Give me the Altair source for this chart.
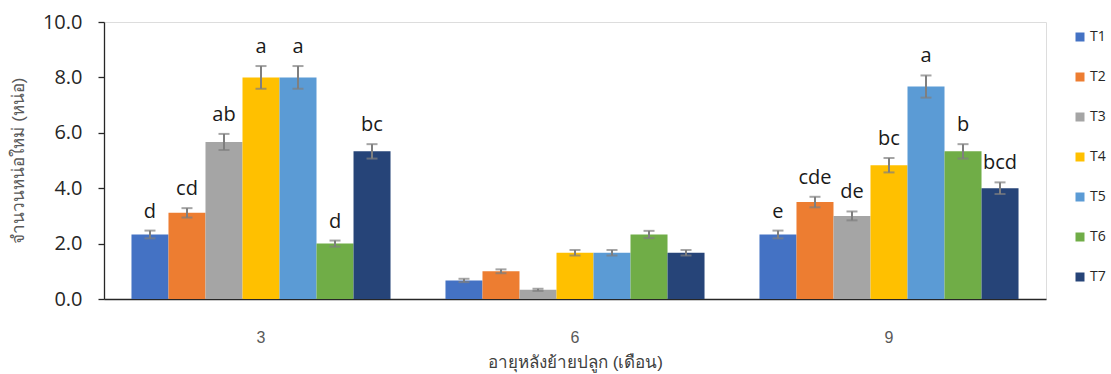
import altair as alt
import pandas as pd

# Months after transplanting and treatments
months = ["3", "6", "9"]
treatments = ["T1", "T2", "T3", "T4", "T5", "T6", "T7"]
colors = ["#4472C4", "#ED7D31", "#A5A5A5", "#FFC000", "#5B9BD5", "#70AD47", "#264478"]

# Mean number of new shoots per month (T1..T7)
mean_m3 = [2.33, 3.11, 5.67, 8.00, 8.00, 2.00, 5.33]
mean_m6 = [0.67, 1.00, 0.33, 1.67, 1.67, 2.33, 1.67]
mean_m9 = [2.33, 3.50, 3.00, 4.83, 7.67, 5.33, 4.00]

# Standard errors
se_m3 = [0.14, 0.17, 0.29, 0.41, 0.41, 0.11, 0.26]
se_m6 = [0.06, 0.07, 0.04, 0.10, 0.10, 0.13, 0.10]
se_m9 = [0.14, 0.19, 0.16, 0.26, 0.40, 0.26, 0.21]

# Significance letters (month 6 has none)
let_m3 = ["d", "cd", "ab", "a", "a", "d", "bc"]
let_m6 = ["", "", "", "", "", "", ""]
let_m9 = ["e", "cde", "de", "bc", "a", "b", "bcd"]

rows = []
for m, means, ses, lets in zip(months, [mean_m3, mean_m6, mean_m9],
                               [se_m3, se_m6, se_m9], [let_m3, let_m6, let_m9]):
    for t, v, s, l in zip(treatments, means, ses, lets):
        rows.append({"month": m, "trt": t, "value": v,
                     "lo": v - s, "hi": v + s, "letter": l})
df = pd.DataFrame(rows)

x_enc = alt.X("month:N", sort=months,
              scale=alt.Scale(paddingInner=0.175, paddingOuter=0.0875),
              axis=alt.Axis(title="อายุหลังย้ายปลูก (เดือน)", labelAngle=0,
                            ticks=False, labelPadding=30, labelFontSize=16,
                            labelColor="#595959", labelFont="Liberation Sans",
                            titleFontSize=17, titleColor="#404040",
                            titleFontWeight="normal", titleY=63,
                            titleBaseline="middle",
                            domainColor="#262626", domainWidth=1.5))
xo_enc = alt.XOffset("trt:N", sort=treatments, scale=alt.Scale(paddingInner=0, paddingOuter=0))
y_scale = alt.Scale(domain=[0, 10], nice=False)

base = alt.Chart(df)

bars = base.mark_bar(stroke=None).encode(
    x=x_enc,
    xOffset=xo_enc,
    y=alt.Y("value:Q", scale=y_scale,
            axis=alt.Axis(title="จำนวนหน่อใหม่ (หน่อ)", values=[0, 2, 4, 6, 8, 10],
                          format=".1f", labelFontSize=20, labelFont="Open Sans",
                          labelColor="#262626", labelPadding=16,
                          tickSize=6, tickColor="#262626", tickWidth=1.3,
                          domainColor="#262626", domainWidth=1.3, grid=False,
                          titleFontSize=17, titleColor="#595959",
                          titleFontWeight="normal", titleX=-86, titleY=138,
                          titleAngle=-90, titleAlign="center",
                          titleBaseline="middle")),
    color=alt.Color("trt:N", sort=treatments,
                    scale=alt.Scale(domain=treatments, range=colors),
                    legend=alt.Legend(title=None, orient="none", legendX=969,
                                      legendY=8, symbolType="square",
                                      symbolSize=81, symbolStrokeWidth=0,
                                      labelFontSize=14, labelFont="Open Sans",
                                      labelColor="#262626", rowPadding=26,
                                      labelOffset=3, padding=0)),
)

err = base.mark_rule(color="#7F7F7F", strokeWidth=2).encode(
    x=x_enc, xOffset=xo_enc,
    y=alt.Y("lo:Q", scale=y_scale), y2="hi:Q",
)
cap_lo = base.mark_tick(color="#7F7F7F", thickness=2, size=11, orient="horizontal").encode(
    x=x_enc, xOffset=xo_enc, y=alt.Y("lo:Q", scale=y_scale),
)
cap_hi = base.mark_tick(color="#7F7F7F", thickness=2, size=11, orient="horizontal").encode(
    x=x_enc, xOffset=xo_enc, y=alt.Y("hi:Q", scale=y_scale),
)
labels = base.mark_text(baseline="alphabetic", dy=-13, fontSize=20,
                        font="Open Sans", color="#1a1a1a").encode(
    x=x_enc, xOffset=xo_enc, y=alt.Y("hi:Q", scale=y_scale),
    text="letter:N",
)

chart = alt.layer(bars, err, cap_lo, cap_hi, labels).properties(
    width=942, height=277,
    autosize=alt.AutoSizeParams(type="none"),
    padding={"left": 104, "top": 22, "right": 65, "bottom": 75},
).configure_view(stroke=None).configure(background="white")

chart.save("out.html", embed_options={"renderer": "svg", "actions": False})
